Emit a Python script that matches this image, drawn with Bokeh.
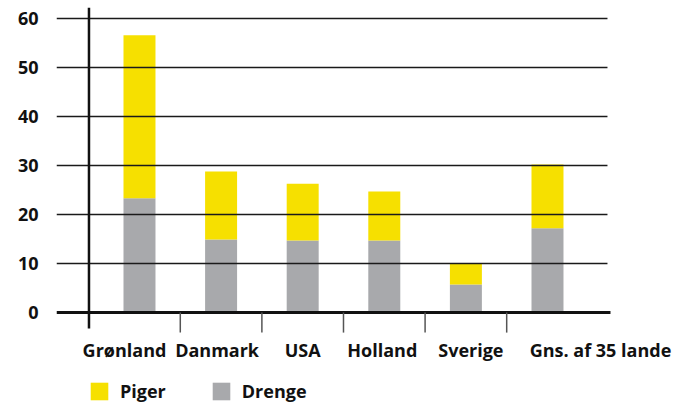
from bokeh.plotting import figure
from bokeh.models import (ColumnDataSource, Range1d, FixedTicker, Legend, LegendItem,
                          LabelSet)
from bokeh.core.properties import value
from bokeh.embed import file_html
from bokeh.resources import INLINE

# ---- data ----
categories = ["Grønland", "Danmark", "USA", "Holland", "Sverige", "Gns. af 35 lande"]
drenge = [23.3, 14.9, 14.7, 14.7, 5.7, 17.2]
piger = [33.3, 13.9, 11.6, 10.0, 4.3, 13.0]
y_ticks = [0, 10, 20, 30, 40, 50, 60]

# ---- style ----
YELLOW = "#F6E000"
GRAY = "#A8A9AC"
FONT = "Open Sans"
label_x_offsets = [-15, -4, 0, -2, 5, 53]

X_START, X_END = -1.017, 6.679      # visible x range (frame spans whole width)
GRID_END, ZERO_END = 5.735, 5.772   # right ends of grid / zero lines
AXIS_X = -0.619                     # position of the vertical axis line

xs = list(range(len(categories)))
src = ColumnDataSource(dict(x=xs, y0=[0] * len(xs), cat=categories, drenge=drenge,
                            piger=piger, xoff=label_x_offsets))

p = figure(width=684, height=404, output_backend="svg", toolbar_location=None,
           x_range=Range1d(X_START, X_END), y_range=Range1d(-18.776, 62.245),
           min_border_left=56, min_border_right=0, min_border_top=7, min_border_bottom=0)
p.outline_line_color = None
p.xaxis.visible = False
p.grid.visible = False

# y axis (labels only)
p.yaxis.ticker = FixedTicker(ticks=y_ticks)
p.yaxis.axis_line_color = None
p.yaxis.major_tick_line_color = None
p.yaxis.minor_tick_line_color = None
p.yaxis.major_tick_out = 0
p.yaxis.major_tick_in = 0
p.yaxis.major_label_standoff = 18
p.yaxis.major_label_text_font = FONT
p.yaxis.major_label_text_font_style = "bold"
p.yaxis.major_label_text_font_size = "18px"
p.yaxis.major_label_text_color = "#111111"

rs = p.vbar_stack(["drenge", "piger"], x="x", width=0.392, color=[GRAY, YELLOW],
                  line_color=None, source=src)

# grid lines drawn over the bars
grid_ticks = y_ticks[1:]
p.segment(x0=[X_START] * len(grid_ticks), y0=grid_ticks,
          x1=[GRID_END] * len(grid_ticks), y1=grid_ticks,
          line_color="#1a1a1a", line_width=1.4)

# zero line
p.segment(x0=[X_START], y0=[0], x1=[ZERO_END], y1=[0], line_color="#111111", line_width=3)

# vertical axis line
p.segment(x0=[AXIS_X], y0=[-3.27], x1=[AXIS_X], y1=[62.245], line_color="#111111",
          line_width=2.5)

# category separators
mids = [i + 0.5 for i in xs[:-1]]
p.segment(x0=mids, y0=[0] * len(mids), x1=mids, y1=[-4.1] * len(mids),
          line_color="#555555", line_width=1.5)

# category labels
labels = LabelSet(x="x", y="y0", text="cat", source=src, x_offset="xoff", y_offset=-37.5,
                  text_align="center", text_baseline="middle", text_font=value(FONT),
                  text_font_style="bold", text_font_size="18px", text_color="#111111")
p.add_layout(labels)

legend = Legend(items=[LegendItem(label="Piger", renderers=[rs[1]]),
                       LegendItem(label="Drenge", renderers=[rs[0]])],
                orientation="horizontal", location=(32, 1),
                glyph_width=22, glyph_height=22, label_height=22, label_standoff=10,
                spacing=44, padding=0, margin=0, border_line_color=None,
                background_fill_alpha=0, label_text_font=FONT,
                label_text_font_style="bold", label_text_font_size="18px",
                label_text_color="#111111")
p.add_layout(legend)

open("out.html", "w").write(file_html(p, INLINE))
